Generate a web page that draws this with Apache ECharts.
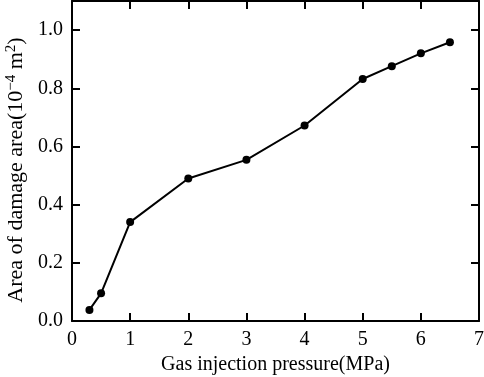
<!DOCTYPE html>
<html>
<head>
<meta charset="utf-8">
<script src="https://cdn.jsdelivr.net/npm/echarts@6/dist/echarts.min.js"></script>
<style>
  html, body { margin: 0; padding: 0; background: #fff; }
  #chart { width: 484px; height: 377px; }
</style>
</head>
<body>
<div id="chart"></div>
<script>
// gas injection pressure (MPa) and damage area (10^-4 m^2)
var pressure = [0.3, 0.5, 1, 2, 3, 4, 5, 5.5, 6, 6.5]
var damageArea = [0.038, 0.095, 0.34, 0.49, 0.554, 0.672, 0.832, 0.876, 0.92, 0.958]
var xTicks = [0, 1, 2, 3, 4, 5, 6, 7]
var yTicks = [0.0, 0.2, 0.4, 0.6, 0.8, 1.0]

var font = 'Liberation Serif'
var points = pressure.map(function(p, i) {
  return [p, damageArea[i]]
})

function axisLine() {
  return { show: true, onZero: false, lineStyle: { color: '#000', width: 2 } }
}
function tick() {
  return { show: true, inside: true, length: 8, lineStyle: { color: '#000', width: 2 } }
}

var chart = echarts.init(document.getElementById('chart'))
chart.setOption({
  animation: false,
  grid: { left: 72, right: 5, top: 1, bottom: 56, outerBoundsMode: 'none', containLabel: false },
  xAxis: [{
    type: 'value',
    min: 0,
    max: 7,
    interval: 1,
    axisLine: axisLine(),
    axisTick: tick(),
    axisLabel: {
      color: '#000', fontFamily: font, fontSize: 20, margin: 9,
      formatter: function(v) { return xTicks.indexOf(v) >= 0 ? String(v) : '' }
    },
    splitLine: { show: false },
    name: 'Gas injection pressure(MPa)',
    nameLocation: 'middle',
    nameGap: 34,
    nameTextStyle: { color: '#000', fontFamily: font, fontSize: 20 }
  }, {
    type: 'value',
    position: 'top',
    min: 0,
    max: 7,
    interval: 1,
    axisLine: axisLine(),
    axisTick: tick(),
    axisLabel: { show: false },
    splitLine: { show: false }
  }],
  yAxis: [{
    type: 'value',
    min: 0,
    max: 1.1,
    interval: 0.2,
    axisLine: axisLine(),
    axisTick: tick(),
    axisLabel: {
      color: '#000', fontFamily: font, fontSize: 20, margin: 9,
      formatter: function(v) {
        var hit = yTicks.filter(function(t) { return Math.abs(t - v) < 1e-6 })
        return hit.length ? hit[0].toFixed(1) : ''
      }
    },
    splitLine: { show: false },
    name: '{n|Area of damage area(10}{s|\u22124}{n| m}{s|2}{n|)}',
    nameLocation: 'middle',
    nameGap: 42,
    nameTextStyle: {
      color: '#000', fontFamily: font, fontSize: 22,
      padding: [0, 18, 0, 0],
      rich: {
        n: { fontFamily: font, fontSize: 22, color: '#000', lineHeight: 26 },
        s: { fontFamily: font, fontSize: 15, color: '#000', verticalAlign: 'top', lineHeight: 26 }
      }
    }
  }, {
    type: 'value',
    position: 'right',
    min: 0,
    max: 1.1,
    interval: 0.2,
    axisLine: axisLine(),
    axisTick: tick(),
    axisLabel: { show: false },
    splitLine: { show: false }
  }],
  series: [{
    type: 'line',
    data: points,
    symbol: 'circle',
    symbolSize: 8,
    itemStyle: { color: '#000' },
    lineStyle: { color: '#000', width: 2 }
  }]
})
</script>
</body>
</html>
